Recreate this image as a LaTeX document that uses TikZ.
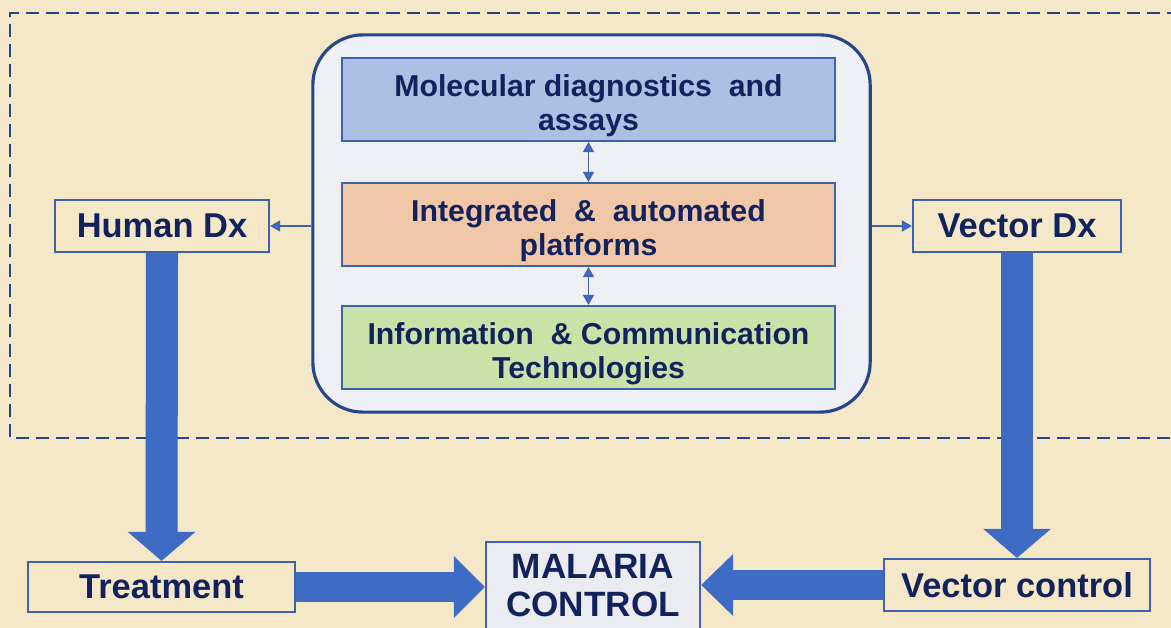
\documentclass[tikz,border=0pt]{standalone}
\usepackage{fontspec}
\setmainfont{Liberation Sans}
\usetikzlibrary{arrows.meta}
\definecolor{paper}{RGB}{244,232,200}
\definecolor{navy}{RGB}{18,34,92}
\definecolor{edgeblue}{RGB}{62,98,172}
\definecolor{darkedge}{RGB}{38,70,140}
\definecolor{fatblue}{RGB}{62,108,196}
\definecolor{panelfill}{RGB}{238,240,245}
\definecolor{molblue}{RGB}{172,192,228}
\definecolor{intpeach}{RGB}{240,200,168}
\definecolor{ictgreen}{RGB}{200,226,168}
\definecolor{malgray}{RGB}{234,236,242}

\begin{document}
\begin{tikzpicture}[x=0.01cm, y=-0.01cm,
		outbox/.style={draw=edgeblue, line width=0.6pt, inner sep=0pt, text=navy, font=\fontsize{9.8}{11}\selectfont\bfseries},
		inbox/.style={draw=edgeblue, line width=0.6pt, inner sep=0pt, minimum width=4.93cm, minimum height=0.83cm, align=center, text=navy, font=\fontsize{8.6}{9.7}\selectfont\bfseries},
		tip/.tip={Triangle[width=0.11cm,length=0.1cm,fill=fatblue]},
		thin/.style={draw=edgeblue, line width=0.4pt, -tip},
		both/.style={draw=edgeblue, line width=0.4pt, tip-tip},
		fat/.style={draw=fatblue, line width=0.32cm, -{Triangle[width=0.66cm,length=0.29cm]}},
	]
			\useasboundingbox (0,0) rectangle (1171,628);
			\clip (0,0) rectangle (1171,628);
			\fill[paper] (0,0) rectangle (1171,628);

			\draw[darkedge, line width=0.6pt, dash pattern=on 0.13cm off 0.07cm] (1200,13) -- (10,13) -- (10,438) -- (1200,438);

			\node[draw=darkedge, line width=0.9pt, fill=panelfill, rounded corners=0.5cm, minimum width=5.57cm, minimum height=3.77cm] at (591.5, 223.5) (panel) {};
			\node[inbox, fill=molblue]  at (588.5,  99.5) (mol)   {\rule{0pt}{10pt}Molecular diagnostics \ and\\assays};
			\node[inbox, fill=intpeach] at (588.5, 224.5) (integ) {\rule{0pt}{10pt}Integrated \ \& \ automated\\platforms};
			\node[inbox, fill=ictgreen] at (588.5, 347.5) (ict)   {\rule{0pt}{10pt}Information \ \& Communication\\Technologies};

			\node[outbox, minimum width=2.14cm, minimum height=0.52cm] at (162, 226)    (human)  {Human Dx};
			\node[outbox, minimum width=2.08cm, minimum height=0.52cm] at (1017, 226)   (vecdx)  {Vector Dx};
			\node[outbox, minimum width=2.67cm, minimum height=0.50cm] at (161.5, 587)  (treat)  {Treatment};
			\node[outbox, minimum width=2.66cm, minimum height=0.52cm] at (1017, 585)   (vecctl) {Vector control};
			\node[outbox, fill=malgray, minimum width=2.14cm, minimum height=0.88cm, align=center, font=\fontsize{10}{10.8}\selectfont\bfseries] at (593, 586) (malaria) {MALARIA\\CONTROL};

			\path
					(human.east -| panel.west)	edge[thin]	(human.east)
					(vecdx.west -| panel.east)	edge[thin]	(vecdx.west)
					(mol.south)		edge[both]	(integ.north)
					(integ.south)	edge[both]	(ict.north)
					;

			\draw[fat] (human.south) -- (treat.north);
			\draw[fat] (vecdx.south) -- (vecctl.north);
			\draw[fat, line width=0.3cm, -{Triangle[width=0.6cm,length=0.31cm]}] (treat.east) -- (treat.east -| malaria.west);
			\draw[fat, line width=0.3cm, -{Triangle[width=0.6cm,length=0.32cm]}] (vecctl.west) -- (vecctl.west -| malaria.east);

		\end{tikzpicture}
\end{document}
